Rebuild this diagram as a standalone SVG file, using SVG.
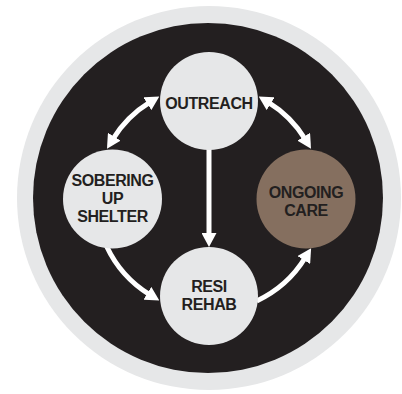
<svg xmlns="http://www.w3.org/2000/svg" width="402" height="394" viewBox="0 0 402 394">
<defs>
<style>
.ring{fill:#e6e7e8}
.bg{fill:#231f20}
.node{fill:#e6e7e8}
.brown{fill:#856f5f}
.lbl{font-family:"Liberation Sans",Arial,sans-serif;font-weight:700;font-size:16px;letter-spacing:-0.4px;fill:#231f20;text-anchor:middle}
.conn{fill:none;stroke:#ffffff;stroke-width:5}
</style>
<marker id="ah" markerUnits="userSpaceOnUse" markerWidth="14" markerHeight="15" refX="3" refY="7.5" orient="auto-start-reverse" viewBox="0 0 14 15">
<path d="M0,0 L14,7.5 L0,15 z" fill="#ffffff"/>
</marker>
</defs>
<rect width="402" height="394" fill="#ffffff"/>
<circle class="ring" cx="209" cy="198" r="192"/>
<circle class="bg" cx="208" cy="198" r="175"/>
<g id="connectors">
<path class="conn" d="M112.76,139.29 A113,113 0 0 1 149.96,102.16" marker-start="url(#ah)" marker-end="url(#ah)"/>
<path class="conn" d="M268.04,102.16 A113,113 0 0 1 305.24,139.29" marker-start="url(#ah)" marker-end="url(#ah)"/>
<path class="conn" d="M209,148 L209,236" marker-end="url(#ah)"/>
<path class="conn" d="M106.59,246.25 A113,113 0 0 0 149.96,294.84" marker-end="url(#ah)"/>
<path class="conn" d="M256.75,300.91 A113,113 0 0 0 305.34,257.54" marker-end="url(#ah)"/>
</g>
<g id="outreach">
<circle class="node" cx="209" cy="101" r="49"/>
<text class="lbl" x="209" y="109">OUTREACH</text>
</g>
<g id="sobering">
<circle class="node" cx="112.5" cy="199" r="49.5"/>
<text class="lbl" x="112.5" y="186">SOBERING</text>
<text class="lbl" x="112.5" y="204">UP</text>
<text class="lbl" x="112.5" y="222">SHELTER</text>
</g>
<g id="ongoing">
<circle class="brown" cx="306" cy="199" r="49.5"/>
<text class="lbl" x="306" y="197.5">ONGOING</text>
<text class="lbl" x="306" y="215.5">CARE</text>
</g>
<g id="resi">
<circle class="node" cx="209" cy="296" r="49"/>
<text class="lbl" x="209" y="292">RESI</text>
<text class="lbl" x="209" y="310">REHAB</text>
</g>
</svg>
